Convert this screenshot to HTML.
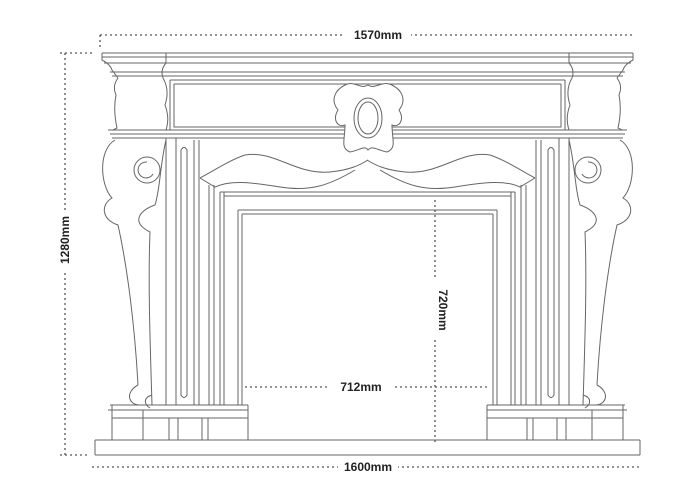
<!DOCTYPE html>
<html><head><style>
html,body{margin:0;padding:0;background:#fff;}
svg{display:block;}
text{font-family:"Liberation Sans",sans-serif;font-size:12px;font-weight:bold;fill:#222;}
</style></head><body>
<svg width="690" height="500" viewBox="0 0 690 500" xmlns="http://www.w3.org/2000/svg">
<g fill="none" stroke="#666" stroke-width="1">
<g id="half">
 <path d="M102,53 L372,53 M102,57 L372,57 M104,63 L372,63 M110,72 L372,72 M112,76 L372,76"/>
 <path d="M102,53 L102,60 Q110,64 112,70 L118,78 M166,53 L166,63 Q160,70 163,78"/>
 <path d="M118,78 Q112,86 116,95 Q113,110 117,128 L113,130 M163,78 Q170,90 165,105 Q170,118 166,130"/>
 <path d="M170,80 L370,80 M170,80 L170,130 M174,84 L370,84 M174,84 L174,127 L370,127"/>
 <path d="M108,130 L372,130 M110,134 L372,134 M112,138 L372,138"/>
 <path d="M115,140 C98,150 100,185 112,198 C100,205 102,220 118,225 C128,270 135,330 138,385 M166,140 C160,165 160,190 155,205 C140,210 130,222 150,232 C148,280 150,340 152,405"/>
 <circle cx="147" cy="170" r="13"/><path d="M147,162 a8,8 0 1,0 6,12"/>
 <path d="M138,385 C125,392 128,405 140,405 M152,395 C142,398 145,405 150,408"/>
 <path d="M166,138 L166,405 M176,138 L176,405 M181,150 L181,395 Q184,400 187,395 L187,150 Q184,145 181,150 M194,140 L194,405 M199,140 L199,405 M209,185 L209,405 M214,185 L214,405 M220,192 L220,405 M224,192 L224,405"/>
 <path d="M200,178 C215,170 230,160 245,155 C275,150 295,175 330,172 C350,170 360,165 368,160"/>
 <path d="M200,178 L215,187 C230,180 250,182 280,187 C310,192 330,185 355,170"/>
 <path d="M220,192 L372,192 M224,196 L372,196 M238,210 L372,210 M242,214 L372,214 M238,210 L238,405 M242,214 L242,405"/>
 <path d="M110,405 L248,405 M108,410 L248,410 M112,418 L248,418 M112,405 L112,440 M248,405 L248,440 M143,410 L143,440 M169,418 L169,440 M178,418 L178,440 M202,418 L202,440 M208,418 L208,440"/>
 <path d="M95,440 L372,440 M95,455 L372,455 M95,440 L95,455"/>
</g>
<use href="#half" transform="translate(735,0) scale(-1,1)"/>
<path d="M345,85 C335,90 330,100 338,110 C332,120 338,128 345,125 C345,140 340,148 350,152 C360,150 365,145 368,150 C372,145 377,150 387,152 C397,148 392,140 392,125 C399,128 405,120 399,110 C407,100 402,90 392,85 C382,80 375,90 368,85 C360,90 355,80 345,85Z" fill="#fff"/>
<ellipse cx="368" cy="118" rx="14" ry="20" fill="#fff"/><ellipse cx="368" cy="118" rx="10" ry="16"/>
</g>
<g fill="none" stroke="#555" stroke-width="1.3" stroke-dasharray="2,3">
 <path d="M100,35 L635,35 M100,35 L100,50 M65,53 L65,455 M60,53 L95,53 M60,455 L90,455 M92,467 L642,467 M435,200 L435,445 M245,387 L488,387"/>
</g>
<rect x="345" y="29" width="66" height="12" fill="#fff"/>
<text x="378" y="39" text-anchor="middle">1570mm</text>
<rect x="338" y="461" width="60" height="12" fill="#fff"/>
<text x="368" y="471" text-anchor="middle">1600mm</text>
<rect x="330" y="381" width="62" height="12" fill="#fff"/>
<text x="361" y="391" text-anchor="middle">712mm</text>
<rect x="429" y="280" width="12" height="60" fill="#fff"/>
<text transform="translate(439,310) rotate(90)" text-anchor="middle">720mm</text>
<rect x="59" y="210" width="12" height="60" fill="#fff"/>
<text transform="translate(69,240) rotate(-90)" text-anchor="middle">1280mm</text>
</svg>
</body></html>
